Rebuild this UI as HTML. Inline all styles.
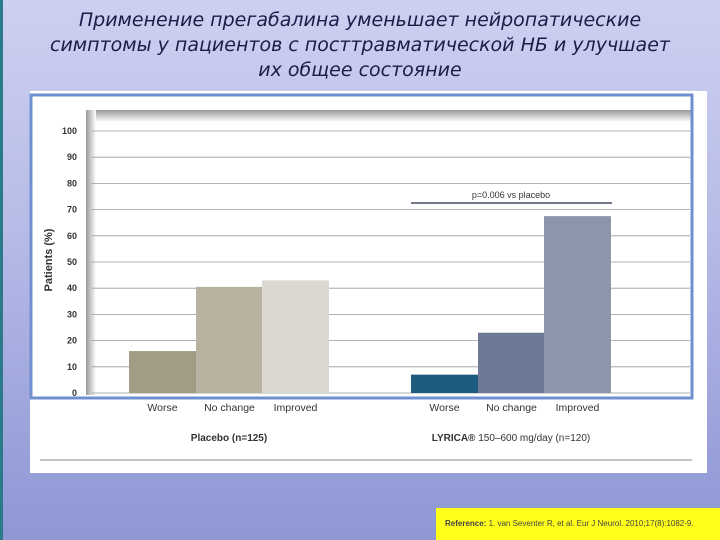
<!DOCTYPE html>
<html><head><meta charset="utf-8"><style>
body{margin:0;width:720px;height:540px;overflow:hidden;position:relative;font-family:"Liberation Sans","DejaVu Sans",sans-serif;background:linear-gradient(#cdd0f0,#b8bde8 40%,#8e96d4);}
.title{position:absolute;left:0;top:8px;width:720px;text-align:center;font-style:italic;font-size:19px;line-height:25px;color:#1a1d48;font-family:"DejaVu Sans","Liberation Sans",sans-serif;}
</style></head><body>
<div style="position:absolute;left:0;top:0;width:3px;height:540px;background:#2a7a8a"></div>
<div class="title">Применение прегабалина уменьшает нейропатические<br>симптомы у пациентов с посттравматической НБ и улучшает<br>их общее состояние</div>
<svg width="720" height="540" style="position:absolute;left:0;top:0">
<defs><linearGradient id="sh" x1="0" y1="0" x2="0" y2="1"><stop offset="0" stop-color="#999"/><stop offset="1" stop-color="#fff"/></linearGradient>
<linearGradient id="shl" x1="0" y1="0" x2="1" y2="0"><stop offset="0" stop-color="#999"/><stop offset="1" stop-color="#fff"/></linearGradient></defs>
<rect x="30" y="91" width="677" height="382" fill="#fff"/>
<rect x="88" y="110" width="604" height="12" fill="url(#sh)"/>
<rect x="86" y="110" width="10" height="285" fill="url(#shl)"/>
<g id="grid"></g><g id="bars"></g><g id="labels"></g>
<rect x="31" y="95" width="661" height="303" fill="none" stroke="#6f8fd0" stroke-width="3"/>
<line x1="40" y1="460" x2="692" y2="460" stroke="#888" stroke-width="1"/>
<line x1="411" y1="203" x2="612" y2="203" stroke="#1b2a44" stroke-width="1.2"/>
<text x="511" y="198" font-size="9" text-anchor="middle" fill="#333">p=0.006 vs placebo</text>
<text transform="translate(52,260) rotate(-90)" font-size="11" font-weight="bold" text-anchor="middle" fill="#333">Patients (%)</text>
<text x="229" y="441" font-size="10" font-weight="bold" text-anchor="middle" fill="#333">Placebo (n=125)</text>
<text x="511" y="441" font-size="10" text-anchor="middle" fill="#333"><tspan font-weight="bold">LYRICA®</tspan> 150–600 mg/day (n=120)</text>
</svg>
<div style="position:absolute;left:436px;top:508px;width:284px;height:32px;background:#ffff1a;font-size:8px;color:#444;line-height:32px;padding-left:9px;box-sizing:border-box;white-space:nowrap;overflow:hidden"><b>Reference:</b> 1. van Seventer R, et al. Eur J Neurol. 2010;17(8):1082-9.</div>
<script>
const ticks=[0,10,20,30,40,50,60,70,80,90,100];
const categories=["Worse","No change","Improved","Worse","No change","Improved"];
const values=[16,40.5,43,7,23,67.5];
const colors=["#a29c84","#b8b3a0","#dad8cf","#1e5a7e","#6e7a95","#8d95aa"];
const NS="http://www.w3.org/2000/svg";
function y(v){return 393-v*2.62;}
const barX=[129,196,262,411,478,544];const bw=67;
const grid=document.getElementById('grid'),bars=document.getElementById('bars'),lab=document.getElementById('labels');
ticks.forEach(t=>{
 const l=document.createElementNS(NS,'line');
 
 
 l.setAttribute('x1',92);l.setAttribute('x2',690);l.setAttribute('y1',y(t));l.setAttribute('y2',y(t));
 l.setAttribute('stroke','#999');l.setAttribute('stroke-width','0.8');grid.appendChild(l);
 const tx=document.createElementNS(NS,'text');
 
 
 tx.setAttribute('x',77);tx.setAttribute('y',y(t)+3);tx.setAttribute('text-anchor','end');
 tx.setAttribute('font-size','9');tx.setAttribute('font-weight','bold');tx.setAttribute('fill','#333');
 tx.textContent=t;lab.appendChild(tx);
});
values.forEach((v,i)=>{
 const r=document.createElementNS(NS,'rect');
 
 
 r.setAttribute('x',barX[i]);r.setAttribute('width',bw);r.setAttribute('y',y(v));r.setAttribute('height',y(0)-y(v));
 r.setAttribute('fill',colors[i]);bars.appendChild(r);
 const tx=document.createElementNS(NS,'text');
 
 
 tx.setAttribute('x',barX[i]+bw/2);tx.setAttribute('y',411);tx.setAttribute('text-anchor','middle');
 tx.setAttribute('font-size','10.5');tx.setAttribute('fill','#333');
 tx.textContent=categories[i];lab.appendChild(tx);
});
</script>
</body></html>
